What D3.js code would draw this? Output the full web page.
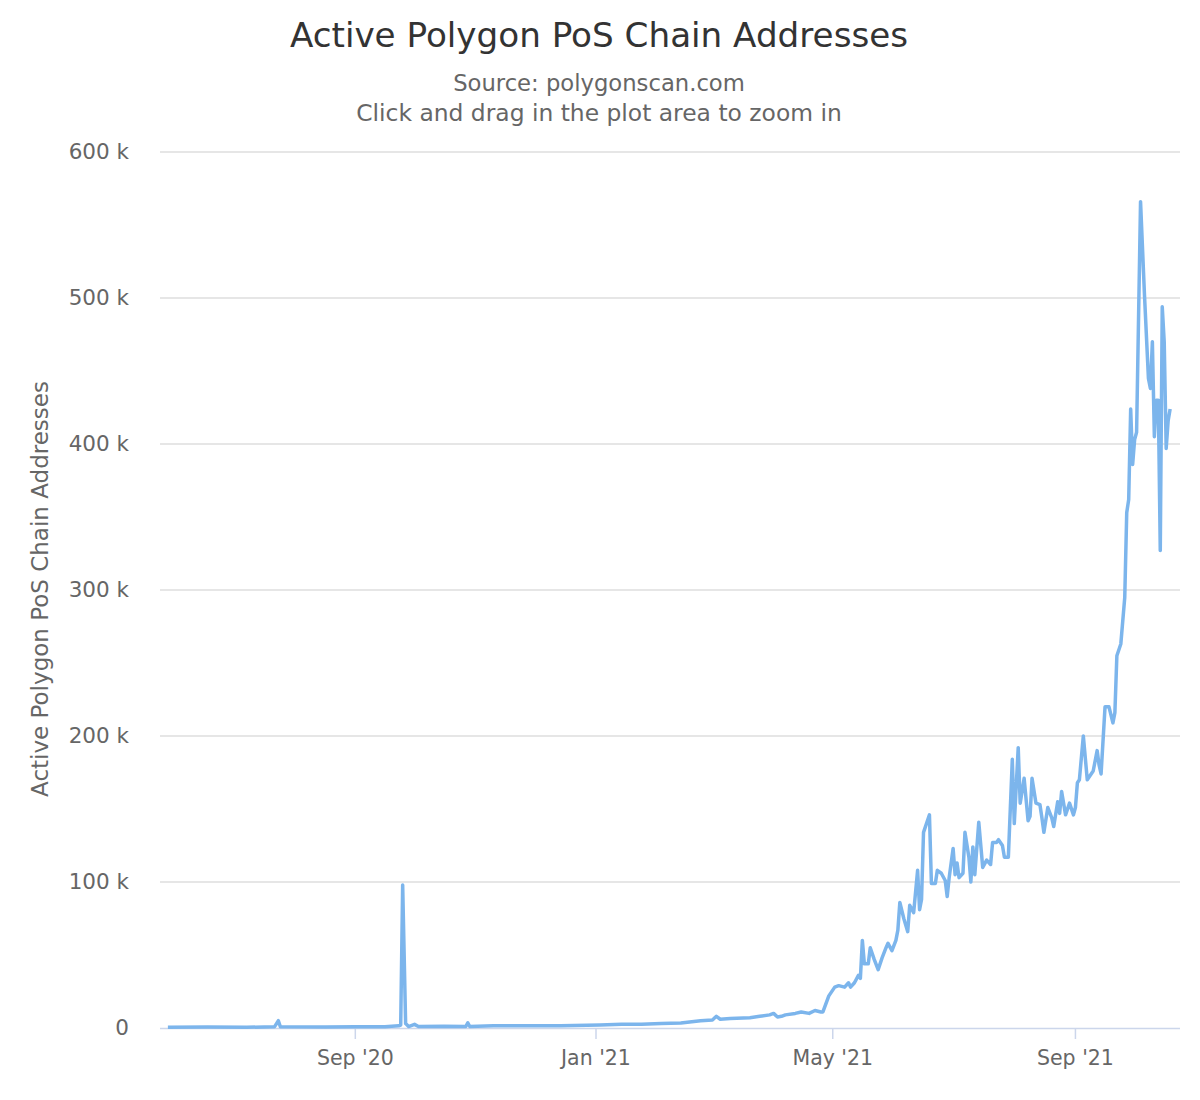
<!DOCTYPE html>
<html><head><meta charset="utf-8">
<script src="https://cdn.jsdelivr.net/npm/d3@7"></script>
<style>body{margin:0;background:#fff;font-family:"DejaVu Sans",sans-serif}</style>
</head><body><svg id="c" width="1200" height="1100"></svg>
<script>
const startDate = "2020-05-29";
const days = [0,20,40,54,56,57,80,95,110,117,118,119,120.5,122,125,127,140,151,152,153,165,179,199,219,230,240,250,260,270,276,278,280,285,295,300,305,307,309,311,313,318,321,325,328,331,
332,335,338,340,343,345,346,348,350,351,352,353,355,356,358,360,362,364,365,367,369,370,371,373,375,376,378,380,381,382,383,386,387,389,390,392,394,395,396,398,399,400,401,403,404,406,407,408,409,411,413,415,417,418,420,421,423,424,426,428,429,431,432,434,436,437,438,440,442,443,444,446,448,449,451,452,453,455,457,459,460,461,462,464,466,469,471,472,473,475,477,479,480,481,483,485,486,487,488,489,490,491,493,495,497,498,499,500,501,502,503,504,505,506,507,508];
const valuesK = [0.5,0.6,0.5,0.8,5,0.8,0.7,0.8,0.9,1.5,2,98,3,1,2.5,1,1.2,1,3.5,1,1.5,1.5,1.5,2,2.5,2.5,3,3.5,5,5.5,8,6,6.5,7,8,9,10,7.5,8,9,10,11,10,12,11,
11,22,28,29,28,31,28,31,36,34,60,44,44,55,47,40,48,55,58,53,60,67,86,75,66,84,79,108,81,88,134,146,99,99,108,106,101,90,103,123,105,113,103,106,134,117,100,124,105,141,110,115,112,127,127,129,125,117,117,184,140,192,154,171,142,145,171,154,153,144,134,151,144,138,155,147,162,146,154,146,151,168,170,200,170,176,190,180,174,220,220,209,216,255,263,295,353,362,424,386,403,408,566,502,445,438,470,405,430,430,327,494,470,397,416,424];
const yTicks = [0,100000,200000,300000,400000,500000,600000];
const yTickLabels = ["0","100 k","200 k","300 k","400 k","500 k","600 k"];
const xTickDates = ["2020-09-01","2021-01-01","2021-05-01","2021-09-01"];
const xTickLabels = ["Sep '20","Jan '21","May '21","Sep '21"];

const svg = d3.select("#c");
const L=160,R=1180,T=152,B=1028;
const p = d3.utcParse("%Y-%m-%d");
const s0 = p(startDate);
const data = days.map((d,i)=>({date:new Date(+s0 + d*864e5), v:valuesK[i]*1000}));
const x = d3.scaleUtc().domain([p("2020-05-25"),p("2021-10-24")]).range([L,R]);
const y = d3.scaleLinear().domain([0,600000]).range([B,T]);

svg.append("g").selectAll("line").data(yTicks.slice(1)).join("line")
 .attr("x1",L).attr("x2",R).attr("y1",d=>y(d)).attr("y2",d=>y(d)).attr("stroke","#dedede").attr("stroke-width",1.5);
svg.append("g").selectAll("text").data(yTicks).join("text")
 .attr("x",129).attr("y",d=>y(d)+7).attr("text-anchor","end").attr("font-size",21.5).attr("fill","#666")
 .text((d,i)=>yTickLabels[i]);
svg.append("line").attr("x1",L).attr("x2",R).attr("y1",B+0.5).attr("y2",B+0.5).attr("stroke","#ccd6eb").attr("stroke-width",1.5);
const xt = xTickDates.map(p);
svg.append("g").selectAll("line").data(xt).join("line")
 .attr("x1",d=>x(d)).attr("x2",d=>x(d)).attr("y1",B).attr("y2",B+11).attr("stroke","#ccd6eb").attr("stroke-width",1.5);
svg.append("g").selectAll("text").data(xt).join("text")
 .attr("x",d=>x(d)).attr("y",B+37).attr("text-anchor","middle").attr("font-size",20.5).attr("fill","#666")
 .text((d,i)=>xTickLabels[i]);

svg.append("path").datum(data).attr("fill","none").attr("stroke","#7cb5ec").attr("stroke-width",3.5)
 .attr("stroke-linejoin","round").attr("d",d3.line().x(d=>x(d.date)).y(d=>y(d.v)));

svg.append("text").attr("x",599).attr("y",47).attr("text-anchor","middle").attr("font-size",34.2).attr("fill","#333").text("Active Polygon PoS Chain Addresses");
svg.append("text").attr("x",599).attr("y",91).attr("text-anchor","middle").attr("font-size",22.7).attr("fill","#666").text("Source: polygonscan.com");
svg.append("text").attr("x",599).attr("y",121).attr("text-anchor","middle").attr("font-size",23.4).attr("fill","#666").text("Click and drag in the plot area to zoom in");
svg.append("text").attr("transform","translate(48,589) rotate(-90)").attr("text-anchor","middle").attr("font-size",23).attr("fill","#666").text("Active Polygon PoS Chain Addresses");
</script></body></html>
